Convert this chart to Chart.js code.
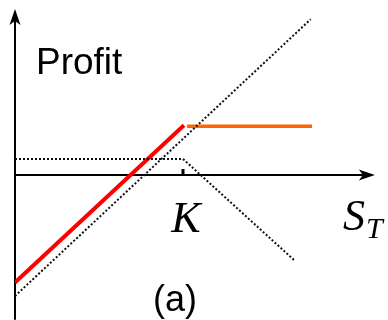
<!DOCTYPE html>
<html>
<head>
<meta charset="utf-8">
<script src="https://cdn.jsdelivr.net/npm/chart.js@4.4.0/dist/chart.umd.min.js"></script>
<style>
  html, body { margin: 0; padding: 0; background: #fff; }
  #payoff { display: block; }
</style>
</head>
<body>
<canvas id="payoff" width="388" height="320"></canvas>
<script>
'use strict';

// payoff lines, S_T along x, profit along y
const strike = 50;

const stockX = [0, 88];
const stockY = [-38.5, 49.5];

const shortCallX = [0, 50, 83];
const shortCallY = [5.1, 5.1, -27];

const coveredX = [0, 50.3];
const coveredY = [-34.2, 15.8];

const cappedX = [51.2, 88.4];
const cappedY = [15.5, 15.5];

// axis extents
const xAxisEnd = 107.1;
const yAxisTop = 52.8;
const yAxisBottom = -46;

function pts(xs, ys) {
  return xs.map((x, i) => ({ x: x, y: ys[i] }));
}

function arrowHead(ctx, tipX, tipY, dirX, dirY) {
  const len = 16, half = 5.5, notch = 4;
  const px = -dirY, py = dirX;
  ctx.beginPath();
  ctx.moveTo(tipX, tipY);
  ctx.lineTo(tipX - dirX * len + px * half, tipY - dirY * len + py * half);
  ctx.lineTo(tipX - dirX * (len - notch), tipY - dirY * (len - notch));
  ctx.lineTo(tipX - dirX * len - px * half, tipY - dirY * len - py * half);
  ctx.closePath();
  ctx.fill();
}

const axesPlugin = {
  id: 'axesPlugin',
  beforeDatasetsDraw(chart) {
    const ctx = chart.ctx;
    const xs = chart.scales.x, ys = chart.scales.y;
    const ox = xs.getPixelForValue(0), oy = ys.getPixelForValue(0);
    const xEnd = xs.getPixelForValue(xAxisEnd);
    const yTop = ys.getPixelForValue(yAxisTop);
    const yBot = ys.getPixelForValue(yAxisBottom);
    ctx.save();
    ctx.strokeStyle = '#000';
    ctx.fillStyle = '#000';
    ctx.lineWidth = 2;
    ctx.beginPath();
    ctx.moveTo(ox, yBot);
    ctx.lineTo(ox, yTop + 10);
    ctx.moveTo(ox, oy);
    ctx.lineTo(xEnd - 10, oy);
    ctx.stroke();
    arrowHead(ctx, ox, yTop, 0, -1);
    arrowHead(ctx, xEnd, oy, 1, 0);
    // strike tick
    const kx = xs.getPixelForValue(strike);
    ctx.lineWidth = 3;
    ctx.beginPath();
    ctx.moveTo(kx, oy);
    ctx.lineTo(kx, oy - 6);
    ctx.stroke();
    ctx.restore();
  },
  afterDraw(chart) {
    const ctx = chart.ctx;
    const kx = chart.scales.x.getPixelForValue(strike);
    ctx.save();
    ctx.fillStyle = '#000';
    ctx.textBaseline = 'alphabetic';
    ctx.textAlign = 'left';
    ctx.font = '37px "Liberation Sans", Arial, sans-serif';
    ctx.fillText('Profit', 36, 74);
    ctx.textAlign = 'center';
    ctx.font = 'italic 44px "Liberation Serif", "Times New Roman", serif';
    ctx.fillText('K', kx + 3, 232);
    ctx.textAlign = 'left';
    ctx.fillText('S', 343, 230);
    ctx.font = 'italic 30px "Liberation Serif", "Times New Roman", serif';
    ctx.fillText('T', 366, 238);
    ctx.textAlign = 'center';
    ctx.font = '36px "Liberation Sans", Arial, sans-serif';
    ctx.fillText('(a)', 175, 311);
    ctx.restore();
  }
};

const dotted = {
  borderColor: '#111',
  borderWidth: 2,
  borderDash: [2, 2],
  pointRadius: 0,
  fill: false,
  tension: 0
};

new Chart(document.getElementById('payoff'), {
  type: 'line',
  data: {
    datasets: [
      Object.assign({ label: 'Stock', data: pts(stockX, stockY) }, dotted),
      Object.assign({ label: 'Short call', data: pts(shortCallX, shortCallY) }, dotted),
      {
        label: 'Covered call',
        data: pts(coveredX, coveredY),
        borderColor: '#ff0000',
        borderWidth: 4,
        pointRadius: 0,
        tension: 0
      },
      {
        label: 'Capped',
        data: pts(cappedX, cappedY),
        borderColor: '#ff6600',
        borderWidth: 3.5,
        pointRadius: 0,
        tension: 0
      }
    ]
  },
  options: {
    responsive: false,
    animation: false,
    devicePixelRatio: 1,
    layout: { padding: { left: 15, right: 3.4, top: 2, bottom: 3.5 } },
    plugins: { legend: { display: false }, tooltip: { enabled: false } },
    scales: {
      x: { type: 'linear', display: false, min: 0, max: 110 },
      y: { type: 'linear', display: false, min: -45, max: 55 }
    }
  },
  plugins: [axesPlugin]
});
</script>
</body>
</html>
